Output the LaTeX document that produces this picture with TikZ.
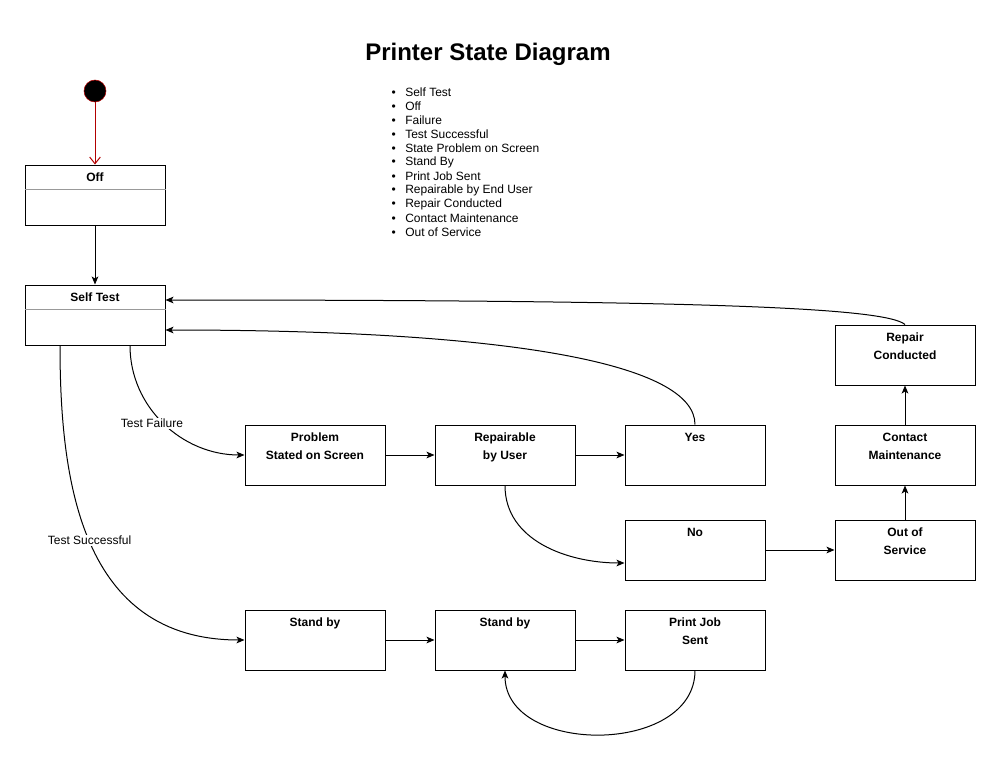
\documentclass[tikz,border=0pt]{standalone}
\usepackage{fontspec}
\setmainfont{Liberation Sans}
\usetikzlibrary{arrows.meta,calc,positioning}

\definecolor{initred}{HTML}{B20000}
\tikzset{
  state/.style={draw, line width=0.75pt, minimum width=105pt, minimum height=45pt, inner sep=0pt},
  boxtext/.style={font=\bfseries\fontsize{9}{13.5}\selectfont, align=center, inner sep=0pt, anchor=north, yshift=-6.2pt},
  divider/.style={draw=black!40, line width=0.75pt},
  arr/.style={line width=0.75pt, -{Stealth[length=6pt,width=5pt,inset=1.5pt]}},
  edgelabel/.style={font=\fontsize{9}{11}\selectfont, fill=white, inner sep=1pt},
  listitem/.style={font=\fontsize{9}{11}\selectfont, anchor=west, inner sep=0pt}
}

\begin{document}
\begin{tikzpicture}[x=0.75pt, y=-0.75pt]
    \useasboundingbox (0,0) rectangle (1001,761);

    % title and list
    \node [font=\bfseries\fontsize{18}{22}\selectfont] (title) at (488,54) {Printer State Diagram};
    \foreach \txt [count=\i from 0] in {Self Test, Off, Failure, Test Successful,
        State Problem on Screen, Stand By, Print Job Sent, Repairable by End User,
        Repair Conducted, Contact Maintenance, Out of Service}
      \node [listitem] (item\i) at (405,{92+14*\i}) {\llap{\textbullet\hspace{7pt}}\txt};

    % initial state
    \node [circle, fill=black, draw=initred, minimum size=16.5pt, inner sep=0pt] (init) at (95,91) {};

    % states
    \node [state, label={[boxtext]north:Off}] (off) at (95,195) {};
    \node [state, label={[boxtext]north:Self Test}] (self) at (95,315) {};
    \draw [divider] ([yshift=-18.75pt]off.north west) -- ([yshift=-18.75pt]off.north east);
    \draw [divider] ([yshift=-18.75pt]self.north west) -- ([yshift=-18.75pt]self.north east);

    \node [state, label={[boxtext]north:Problem\\Stated on Screen}] (prob) at (315,455) {};
    \node [state, label={[boxtext]north:Repairable\\by User}] (repuser) at (505,455) {};
    \node [state, label={[boxtext]north:Yes}] (yes) at (695,455) {};
    \node [state, label={[boxtext]north:No}] (no) at (695,550) {};
    \node [state, label={[boxtext]north:Out of\\Service}] (oos) at (905,550) {};
    \node [state, label={[boxtext]north:Contact\\Maintenance}] (contact) at (905,455) {};
    \node [state, label={[boxtext]north:Repair\\Conducted}] (repaired) at (905,355) {};
    \node [state, label={[boxtext]north:Stand by}] (stand1) at (315,640) {};
    \node [state, label={[boxtext]north:Stand by}] (stand2) at (505,640) {};
    \node [state, label={[boxtext]north:Print Job\\Sent}] (printjob) at (695,640) {};

    % transitions
    \draw [line width=0.75pt, initred, -{Straight Barb[length=5pt,width=8pt]}] (init) -- (off);
    \draw [arr] (off) -- (self);
    \draw [arr] ($(self.south)+(35,0)$) to [out=-90, in=180]
      node [edgelabel, pos=0.5, xshift=-9pt] {Test Failure} (prob.west);
    \draw [arr] ($(self.south)+(-35,0)$) to [out=-90, in=180, in looseness=1.2]
      node [edgelabel, pos=0.49] {Test Successful} (stand1.west);
    \draw [arr] (prob) -- (repuser);
    \draw [arr] (repuser) -- (yes);
    \draw [arr] (repuser.south) to [out=-90, in=180] ($(no.west)+(0,13)$);
    \draw [arr] (no) -- (oos);
    \draw [arr] (oos) -- (contact);
    \draw [arr] (contact) -- (repaired);
    \draw [arr] (repaired.north) .. controls +(-20,-17) and +(535,0) .. ($(self.east)+(0,-15)$);
    \draw [arr] (yes.north) .. controls +(0,-60) and +(350,0) .. ($(self.east)+(0,15)$);
    \draw [arr] (stand1) -- (stand2);
    \draw [arr] (stand2) -- (printjob);
    \draw [arr] (printjob.south) to [out=-90, in=-90, looseness=1.15] (stand2.south);
  \end{tikzpicture}
\end{document}
